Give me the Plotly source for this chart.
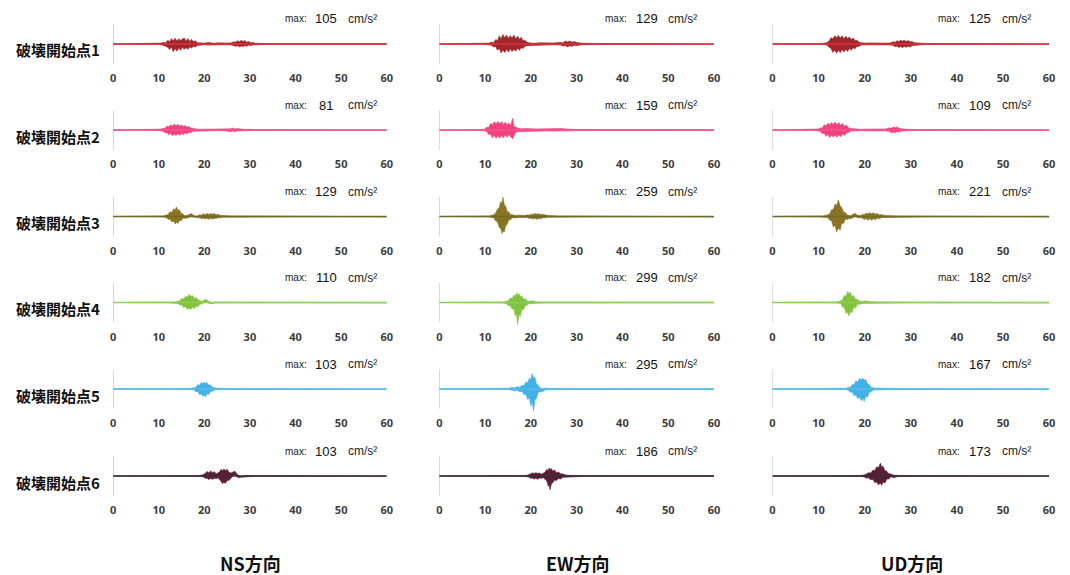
import plotly.graph_objects as go

# ---- labels ----
SOURCES = ["破壊開始点1", "破壊開始点2", "破壊開始点3", "破壊開始点4", "破壊開始点5", "破壊開始点6"]
COMPONENTS = ["NS方向", "EW方向", "UD方向"]
TIME_TICKS = [0, 10, 20, 30, 40, 50, 60]
UNIT = "cm/s²"

# ---- acceleration envelopes: (time s, upper cm/s2, lower cm/s2) ----
NS1 = [(0,0,0),(10,5,-5),(10.5,12,-10),(11,22,-15),(11.5,15,-30),(12,50,-45),(12.4,30,-75),(12.8,72,-40),
       (13.2,45,-105),(13.6,78,-60),(14,40,-98),(14.4,70,-55),(14.8,48,-86),(15.2,66,-45),(15.6,80,-70),
       (16,42,-50),(16.4,74,-72),(16.8,35,-40),(17.2,64,-55),(17.6,30,-30),(18,45,-40),(18.5,18,-20),
       (19,14,-12),(20,12,-10),(21,20,-15),(22,10,-12),(23,16,-10),(24,9,-12),(25,12,-9),(26,16,-14),
       (26.5,32,-20),(26.9,22,-32),(27.3,45,-25),(27.7,30,-38),(28.1,50,-28),(28.5,35,-34),(28.9,48,-22),
       (29.3,25,-30),(29.7,35,-18),(30.2,18,-20),(30.7,20,-12),(31.2,10,-10),(32,8,-8),(35,5,-5),(60,4,-4)]
EW1 = [(0,0,0),(10,4,-4),(10.8,12,-8),(11.4,25,-18),(11.9,20,-40),(12.3,60,-35),(12.7,45,-85),(13.1,110,-60),
       (13.5,70,-122),(13.9,129,-80),(14.3,85,-115),(14.7,118,-70),(15.1,75,-108),(15.5,112,-65),(15.9,80,-100),
       (16.3,120,-75),(16.7,70,-95),(17.1,105,-60),(17.5,65,-85),(17.9,90,-50),(18.3,45,-60),(18.7,50,-30),
       (19.2,22,-22),(19.8,15,-12),(20.5,10,-12),(22,16,-10),(23.5,10,-12),(25,14,-10),(26.5,22,-14),
       (27,15,-28),(27.5,40,-22),(28,28,-38),(28.5,42,-25),(29,25,-32),(29.5,35,-18),(30,20,-22),(31,12,-10),
       (33,8,-6),(40,6,-5),(60,4,-4)]
UD1 = [(0,0,0),(10,4,-4),(11,8,-8),(11.8,20,-15),(12.3,40,-45),(12.7,85,-60),(13.1,70,-115),(13.5,110,-80),
       (13.9,85,-125),(14.3,115,-85),(14.7,80,-118),(15.1,110,-75),(15.5,70,-108),(15.9,105,-70),(16.3,75,-100),
       (16.7,95,-60),(17.1,60,-85),(17.5,80,-50),(17.9,45,-65),(18.3,50,-35),(18.8,25,-30),(19.3,18,-14),
       (20,12,-12),(21,15,-10),(22.5,10,-12),(24,12,-9),(25.5,14,-12),(26.2,30,-20),(26.6,22,-38),(27,45,-28),
       (27.4,35,-48),(27.8,52,-35),(28.2,40,-50),(28.6,50,-32),(29,35,-45),(29.4,46,-30),(29.8,30,-40),
       (30.3,32,-22),(30.8,18,-20),(31.4,14,-10),(33,8,-6),(45,5,-5),(60,4,-4)]

NS2 = [(0,0,0),(9.5,4,-4),(10.5,12,-10),(11,25,-18),(11.4,20,-40),(11.8,55,-35),(12.2,40,-65),(12.6,72,-45),
       (13,50,-78),(13.4,81,-55),(13.8,55,-75),(14.2,78,-50),(14.6,50,-72),(15,70,-45),(15.4,45,-65),
       (15.8,62,-38),(16.2,38,-55),(16.6,50,-30),(17,28,-38),(17.5,25,-18),(18.3,12,-14),(19.5,10,-9),
       (21,12,-10),(23,10,-8),(24.5,12,-10),(25.2,20,-14),(25.7,16,-22),(26.2,26,-15),(26.7,15,-25),
       (27.2,20,-12),(27.8,12,-14),(28.5,10,-8),(32,6,-5),(60,4,-4)]
EW2 = [(0,0,0),(9,4,-4),(10,15,-12),(10.4,40,-25),(10.8,35,-62),(11.2,90,-55),(11.6,70,-105),(12,110,-70),
       (12.4,80,-112),(12.8,115,-75),(13.2,85,-110),(13.6,112,-70),(14,75,-108),(14.4,105,-65),(14.8,70,-98),
       (15.2,95,-60),(15.6,60,-90),(16,159,-120),(16.3,50,-95),(16.7,40,-30),(17.2,25,-22),(18,16,-14),
       (19,20,-12),(21,15,-16),(23,18,-12),(25,14,-15),(26.5,20,-14),(28,12,-12),(30,8,-7),(60,4,-4)]
UD2 = [(0,0,0),(9,4,-4),(10,14,-12),(10.4,30,-20),(10.8,25,-50),(11.2,70,-40),(11.6,55,-85),(12,92,-60),
       (12.4,70,-100),(12.8,100,-72),(13.2,75,-95),(13.6,109,-70),(14,72,-98),(14.4,100,-65),(14.8,62,-92),
       (15.2,88,-55),(15.6,50,-75),(16,65,-40),(16.5,30,-35),(17,20,-15),(17.8,12,-12),(19,10,-10),(21,12,-10),
       (23,10,-9),(24.5,14,-12),(25.4,30,-18),(25.8,22,-40),(26.2,42,-28),(26.6,30,-38),(27,40,-22),
       (27.5,22,-28),(28,18,-12),(29,10,-8),(32,6,-5),(60,4,-4)]

NS3 = [(0,0,0),(10,4,-4),(11,8,-8),(11.7,20,-15),(12.1,30,-40),(12.5,65,-35),(12.9,55,-75),(13.3,105,-60),
       (13.6,85,-100),(13.9,129,-75),(14.2,80,-95),(14.5,95,-55),(14.9,45,-60),(15.3,35,-22),(15.7,10,-25),
       (16.2,12,-22),(16.7,30,-8),(17.1,40,5),(17.5,25,-5),(17.9,8,-15),(18.5,6,-16),(19,25,-15),(19.4,18,-32),
       (19.8,36,-22),(20.2,25,-35),(20.6,40,-24),(21,28,-38),(21.4,42,-25),(21.8,30,-36),(22.2,40,-22),
       (22.6,22,-28),(23,30,-16),(23.5,15,-18),(24,12,-10),(26,8,-7),(30,8,-6),(40,6,-5),(60,4,-4)]
EW3 = [(0,0,0),(10,4,-4),(11,8,-8),(11.9,25,-20),(12.3,45,-60),(12.7,100,-70),(13.1,120,-150),(13.4,200,-160),
       (13.7,180,-230),(13.9,259,-200),(14.2,160,-210),(14.5,140,-120),(14.8,70,-110),(15.2,60,-45),
       (15.6,25,-40),(16,25,-18),(16.5,15,-20),(17.5,18,-12),(18.5,12,-15),(19.3,22,-14),(19.7,18,-28),
       (20.1,32,-22),(20.5,28,-35),(20.9,40,-25),(21.3,30,-38),(21.7,38,-26),(22.1,26,-32),(22.6,30,-18),
       (23.2,16,-18),(23.8,12,-10),(26,8,-7),(35,6,-5),(60,4,-4)]
UD3 = [(0,0,0),(10,4,-4),(11,8,-8),(12,22,-15),(12.4,35,-50),(12.8,90,-55),(13.2,95,-140),(13.6,170,-120),
       (13.9,150,-205),(14.3,221,-160),(14.7,140,-185),(15,120,-90),(15.4,60,-95),(15.8,55,-35),(16.2,20,-40),
       (16.6,15,-28),(17,10,-32),(17.5,35,-10),(18,42,5),(18.5,15,-20),(19.1,10,-15),(19.5,30,-20),
       (19.9,22,-40),(20.3,48,-28),(20.7,35,-50),(21.1,52,-32),(21.5,38,-50),(21.9,50,-30),(22.3,32,-45),
       (22.7,42,-25),(23.2,22,-32),(23.7,25,-14),(24.5,12,-10),(27,8,-7),(35,6,-5),(60,4,-4)]

NS4 = [(0,0,0),(12,4,-4),(13.5,8,-8),(14.3,20,-15),(14.7,25,-38),(15.1,58,-30),(15.5,45,-70),(15.9,85,-55),
       (16.3,70,-95),(16.7,110,-70),(17,80,-98),(17.4,95,-60),(17.8,55,-85),(18.2,70,-45),(18.6,35,-60),
       (19,30,-20),(19.4,12,-22),(19.8,28,-4),(20.2,42,12),(20.7,32,0),(21.2,5,-18),(21.8,-2,-14),(22.5,4,-8),
       (25,5,-5),(60,4,-4)]
EW4 = [(0,0,0),(12,4,-4),(14,8,-8),(14.7,18,-15),(15.1,25,-45),(15.5,60,-40),(15.9,50,-90),(16.3,100,-80),
       (16.6,80,-180),(16.9,135,-150),(17.1,95,-299),(17.4,120,-160),(17.7,70,-190),(18,90,-90),(18.4,45,-100),
       (18.8,50,-40),(19.2,20,-35),(19.6,15,-15),(20.4,22,-8),(21.2,8,-14),(23,6,-6),(60,4,-4)]
UD4 = [(0,0,0),(12,4,-4),(14,8,-8),(14.8,22,-15),(15.2,35,-60),(15.6,95,-70),(16,90,-150),(16.3,150,-130),
       (16.6,120,-182),(16.9,140,-120),(17.2,80,-140),(17.6,95,-65),(18,45,-75),(18.4,40,-25),(18.9,18,-25),
       (19.4,15,-12),(20,22,-10),(21,12,-14),(23,8,-7),(30,6,-5),(60,4,-4)]

NS5 = [(0,0,0),(15,4,-4),(17,8,-8),(17.8,18,-12),(18.2,25,-40),(18.6,60,-35),(19,50,-80),(19.4,90,-65),
       (19.7,70,-100),(20,95,-80),(20.3,75,-103),(20.6,88,-60),(21,50,-70),(21.4,55,-30),(21.9,20,-28),
       (22.5,14,-10),(23.2,10,-10),(24,8,-7),(30,6,-5),(60,4,-4)]
EW5 = [(0,0,0),(13,4,-4),(15.2,10,-8),(15.8,22,-12),(16.4,15,-25),(17,32,-18),(17.6,25,-38),(18.1,50,-30),
       (18.5,45,-75),(18.9,95,-70),(19.3,85,-140),(19.7,150,-120),(20,120,-230),(20.3,210,-180),(20.6,150,-295),
       (20.9,160,-150),(21.2,70,-130),(21.6,50,-45),(22.1,12,-35),(22.7,5,-30),(23.3,15,-10),(24.2,8,-8),
       (28,6,-5),(60,4,-4)]
UD5 = [(0,0,0),(14,4,-4),(16,10,-8),(16.5,25,-18),(16.9,20,-45),(17.3,60,-40),(17.7,55,-90),(18.1,110,-80),
       (18.5,95,-130),(18.9,145,-110),(19.3,120,-160),(19.6,150,-125),(19.9,115,-167),(20.2,130,-100),
       (20.6,70,-110),(21,60,-45),(21.4,25,-35),(22,15,-12),(23,10,-8),(30,6,-5),(60,4,-4)]

NS6 = [(0,0,0),(17,4,-4),(19,6,-6),(19.8,20,-12),(20.2,35,-32),(20.6,62,-30),(21,45,-48),(21.4,68,-35),
       (21.8,45,-45),(22.2,58,-30),(22.6,30,-38),(23,40,-25),(23.4,60,-55),(23.7,90,-75),(24,70,-103),
       (24.3,95,-85),(24.6,75,-100),(25,90,-60),(25.4,50,-60),(25.8,40,-25),(26.3,60,5),(26.7,65,12),
       (27.1,35,-8),(27.5,5,-25),(28,-5,-18),(29,8,-8),(31,6,-5),(60,4,-4)]
EW6 = [(0,0,0),(17,4,-4),(19,8,-8),(19.5,18,-12),(19.9,25,-30),(20.3,42,-28),(20.7,35,-42),(21.1,45,-32),
       (21.5,35,-45),(21.9,40,-28),(22.3,25,-32),(22.7,35,-22),(23.1,50,-45),(23.5,90,-70),(23.8,70,-140),
       (24,110,-110),(24.2,85,-186),(24.5,100,-100),(24.8,65,-90),(25.2,80,-55),(25.6,45,-60),(26,55,-35),
       (26.5,30,-40),(27,28,-18),(27.6,14,-15),(28.5,8,-8),(32,6,-5),(60,4,-4)]
UD6 = [(0,0,0),(17,4,-4),(19,6,-6),(19.8,15,-10),(20.3,22,-28),(20.8,45,-25),(21.3,40,-50),(21.8,80,-45),
       (22.2,70,-90),(22.6,125,-80),(23,110,-120),(23.4,173,-95),(23.7,120,-125),(24,130,-80),(24.4,70,-95),
       (24.8,65,-40),(25.2,30,-40),(25.7,28,-10),(26.3,10,-22),(27.2,8,-8),(32,6,-5),(60,4,-4)]

WAVES = [[NS1, EW1, UD1], [NS2, EW2, UD2], [NS3, EW3, UD3],
         [NS4, EW4, UD4], [NS5, EW5, UD5], [NS6, EW6, UD6]]

FILL_COLORS = ["#a0262c", "#f0427f", "#8a7422", "#80c341", "#42b1e6", "#5a1f36"]
LINE_COLORS = ["#d8323c", "#f5548c", "#6f6a2c", "#8fce4e", "#5cbbe2", "#3b2f35"]

# ---- page geometry (pixels) ----
W, H = 1070, 575
COL_SPAN = [(111, 387), (440, 717), (776, 1055)]
ROW_BASE = [44, 130, 216.5, 302.5, 389, 476]
LABEL_SHIFT = [6, 0, 0]  # horizontal nudge of the peak labels per column
HALF_PX = 26             # half-height of each panel
CM_PER_PX = 13.5         # acceleration per pixel, shared by all panels
Y_LIM = HALF_PX * CM_PER_PX


def px_x(v):
    return v / W


def px_y(v):
    return 1 - v / H


fig = go.Figure()
layout = dict(width=W, height=H, margin=dict(l=0, r=0, t=0, b=0),
              paper_bgcolor="white", plot_bgcolor="white", showlegend=False)
annotations, shapes = [], []

for r, row in enumerate(WAVES):
    base = ROW_BASE[r]
    for c, wave in enumerate(row):
        n = r * 3 + c + 1
        sfx = "" if n == 1 else str(n)
        t = [p[0] for p in wave]
        up = [p[1] for p in wave]
        lo = [p[2] for p in wave]
        peak = max(max(abs(v) for v in up), max(abs(v) for v in lo))

        fig.add_trace(go.Scatter(
            x=t + t[::-1], y=up + lo[::-1], mode="lines", fill="toself",
            fillcolor=FILL_COLORS[r], line=dict(color=FILL_COLORS[r], width=0.6),
            xaxis="x" + sfx, yaxis="y" + sfx, hoverinfo="skip"))
        fig.add_trace(go.Scatter(
            x=[TIME_TICKS[0], TIME_TICKS[-1]], y=[0, 0], mode="lines",
            line=dict(color=LINE_COLORS[r], width=1.4),
            xaxis="x" + sfx, yaxis="y" + sfx, hoverinfo="skip"))

        x0, x1 = COL_SPAN[c]
        layout["xaxis" + sfx] = dict(
            domain=[px_x(x0), px_x(x1)], range=[TIME_TICKS[0], TIME_TICKS[-1]],
            anchor="y" + sfx, tickvals=TIME_TICKS, ticks="", showgrid=False,
            zeroline=False, showline=False, fixedrange=True,
            tickfont=dict(family="Noto Sans", size=11, color="#3c3c3c", weight="bold"))
        layout["yaxis" + sfx] = dict(
            domain=[px_y(base + HALF_PX), px_y(base - HALF_PX)], range=[-Y_LIM, Y_LIM],
            anchor="x" + sfx, visible=False, fixedrange=True)

        # left vertical axis line
        shapes.append(dict(type="line", xref="x" + sfx, yref="y" + sfx + " domain",
                           x0=0, x1=0, y0=0.12, y1=0.88,
                           line=dict(color="#c4c4c4", width=1.2), layer="below"))

        # peak acceleration label
        ylab = px_y(base - 25)
        lx = x0 + LABEL_SHIFT[c]
        annotations.append(dict(xref="paper", yref="paper", x=px_x(lx + 178), y=ylab, text="max:",
                                showarrow=False, xanchor="center", yanchor="middle",
                                font=dict(family="Liberation Sans", size=10, color="#222")))
        annotations.append(dict(xref="paper", yref="paper", x=px_x(lx + 209), y=ylab, text=f"{peak:.0f}",
                                showarrow=False, xanchor="center", yanchor="middle",
                                font=dict(family="Liberation Sans", size=13, color="#111")))
        annotations.append(dict(xref="paper", yref="paper", x=px_x(lx + 229), y=ylab, text=UNIT,
                                showarrow=False, xanchor="left", yanchor="middle",
                                font=dict(family="Liberation Sans", size=12, color="#222")))

    annotations.append(dict(xref="paper", yref="paper", x=px_x(55), y=px_y(base + 6),
                            text=SOURCES[r], showarrow=False, xanchor="center", yanchor="middle",
                            font=dict(family="Noto Sans CJK JP", size=15, color="#111",
                                      weight="bold")))

for c, name in enumerate(COMPONENTS):
    cx = (COL_SPAN[c][0] + COL_SPAN[c][1]) / 2
    annotations.append(dict(xref="paper", yref="paper", x=px_x(cx + 1), y=px_y(563), text=name,
                            showarrow=False, xanchor="center", yanchor="middle",
                            font=dict(family="Noto Sans CJK JP", size=18, color="#111",
                                      weight="bold")))

layout["annotations"] = annotations
layout["shapes"] = shapes
fig.update_layout(**layout)
fig.write_html("out.html")
